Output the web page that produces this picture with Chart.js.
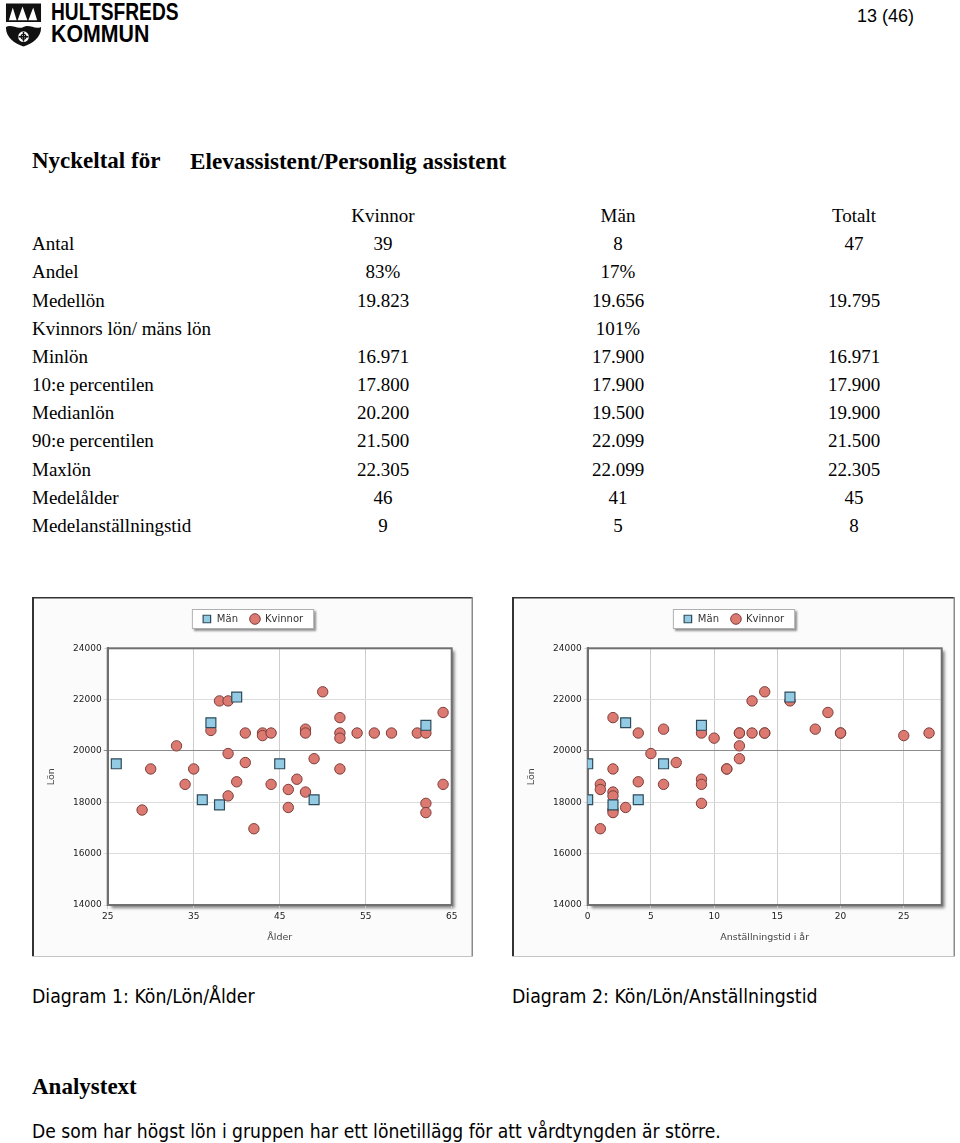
<!DOCTYPE html>
<html lang="sv">
<head>
<meta charset="utf-8">
<title>Nyckeltal Elevassistent/Personlig assistent</title>
<script src="https://cdn.jsdelivr.net/npm/chart.js@4.4.1/dist/chart.umd.min.js"></script>
<style>
  body { margin: 0; width: 960px; height: 1143px; position: relative; background: #fff; overflow: hidden; color: #000; }
  .abs { position: absolute; white-space: nowrap; }
  .serif { font-family: 'Liberation Serif', 'Times New Roman', serif; }
  .sans { font-family: 'Liberation Sans', Arial, sans-serif; }
  .tahoma { font-family: 'DejaVu Sans Condensed', 'DejaVu Sans', sans-serif; }
  .cell { position: absolute; width: 140px; text-align: center; line-height: 28px; font-size: 19px; }
  canvas { position: absolute; }
</style>
</head>
<body>

<!-- sidhuvud -->
<svg class="abs" style="left:5px;top:2px" width="37" height="46" viewBox="0 0 38 46">
  <path d="M1,1 H37 V26 C37,36 28,42 19,45 C10,42 1,36 1,26 Z" fill="#111"/>
  <path d="M4,18 L8,5 L12,18 Z M13,18 L18,4 L23,18 Z M24,18 L29,5 L33,18 Z" fill="#fff"/>
  <path d="M1,20 H37 V25 C31,28 25,22 19,25 C13,28 7,22 1,25 Z" fill="#fff"/>
  <circle cx="19" cy="35" r="5.5" fill="#fff"/>
  <path d="M19,30 V40 M14,35 H24" stroke="#111" stroke-width="1.5"/>
  <circle cx="19" cy="35" r="2.5" fill="none" stroke="#111" stroke-width="1.2"/>
</svg>
<div class="abs sans" style="left:51px;top:-1px;font-size:23.7px;font-weight:bold;line-height:26px;transform:scaleX(0.81);transform-origin:left">HULTSFREDS</div>
<div class="abs sans" style="left:51px;top:21px;font-size:23.7px;font-weight:bold;line-height:26px;transform:scaleX(0.9);transform-origin:left">KOMMUN</div>
<div class="abs sans" style="right:46px;top:5px;font-size:18px;line-height:22px">13 (46)</div>

<div class="abs serif" style="left:32px;top:147px;font-size:23px;font-weight:bold;line-height:28px">Nyckeltal för</div>
<div class="abs serif" style="left:190px;top:147px;font-size:23.2px;font-weight:bold;line-height:28px">Elevassistent/Personlig assistent</div>

<div id="tabell"></div>

<canvas id="diagram1" width="441" height="360" style="left:32px;top:597px"></canvas>
<canvas id="diagram2" width="443" height="360" style="left:512px;top:597px"></canvas>

<div class="abs tahoma" style="left:32px;top:985px;font-size:19.3px;line-height:24px">Diagram 1: Kön/Lön/Ålder</div>
<div class="abs tahoma" style="left:512px;top:985px;font-size:19.3px;line-height:24px">Diagram 2: Kön/Lön/Anställningstid</div>

<div class="abs serif" style="left:32px;top:1073px;font-size:23px;font-weight:bold;line-height:28px">Analystext</div>
<div class="abs tahoma" style="left:32px;top:1120px;font-size:19.1px;line-height:24px">De som har högst lön i gruppen har ett lönetillägg för att vårdtyngden är större.</div>

<script>
// Nyckeltal
var rubriker = ['Kvinnor', 'Män', 'Totalt'];
var radNamn = ['Antal', 'Andel', 'Medellön', 'Kvinnors lön/ mäns lön', 'Minlön', '10:e percentilen',
  'Medianlön', '90:e percentilen', 'Maxlön', 'Medelålder', 'Medelanställningstid'];
var kvinnorVarden = ['39', '83%', '19.823', '', '16.971', '17.800', '20.200', '21.500', '22.305', '46', '9'];
var manVarden = ['8', '17%', '19.656', '101%', '17.900', '17.900', '19.500', '22.099', '22.099', '41', '5'];
var totaltVarden = ['47', '', '19.795', '', '16.971', '17.900', '19.900', '21.500', '22.305', '45', '8'];

// Diagram 1: Kön/Lön/Ålder
var manAlder = [26, 36, 38, 40, 37, 45, 49, 62];
var manLon1 = [19500, 18100, 17900, 22100, 21100, 19500, 18100, 21000];
var kvinnorAlder = [29, 30, 33, 34, 35, 37, 38, 39, 39, 39, 40, 41, 41, 42, 43, 43, 44, 44, 46, 46,
  47, 48, 48, 48, 49, 50, 52, 52, 52, 52, 54, 56, 58, 61, 62, 62, 62, 64, 64];
var kvinnorLon1 = [17700, 19300, 20200, 18700, 19300, 20800, 21950, 21950, 19900, 18250, 18800, 20700, 19550, 16971, 20700, 20600, 20700, 18700, 18500, 17800,
  18900, 20850, 20700, 18400, 19700, 22305, 21300, 20700, 20500, 19300, 20700, 20700, 20700, 20700, 20700, 17960, 17600, 21500, 18700];

// Diagram 2: Kön/Lön/Anställningstid
var manTid = [0, 0, 2, 3, 4, 6, 9, 16];
var manLon2 = [19500, 18100, 17900, 21100, 18100, 19500, 21000, 22100];
var kvinnorTid = [1, 1, 1, 2, 2, 2, 2, 2, 2, 3, 4, 4, 5, 6, 6, 7, 9, 9, 9, 9,
  10, 11, 11, 12, 12, 12, 12, 13, 13, 14, 14, 14, 16, 18, 19, 20, 20, 25, 27];
var kvinnorLon2 = [16971, 18700, 18500, 21300, 19300, 18400, 18250, 17700, 17600, 17800, 20700, 18800, 19900, 20850, 18700, 19550, 20700, 18900, 18700, 17960,
  20500, 19300, 19300, 20700, 20200, 19700, 20700, 21950, 20700, 22305, 20700, 20700, 21950, 20850, 21500, 20700, 20700, 20600, 20700];

// Skalor
var lonTicks = [14000, 16000, 18000, 20000, 22000, 24000];
var alderTicks = [25, 35, 45, 55, 65];
var tidTicks = [0, 5, 10, 15, 20, 25];

// Bygg tabellen
var tabell = document.getElementById('tabell');
var kolumnMitt = [383, 618, 854];
function cell(text, top, left, vanster) {
  var d = document.createElement('div');
  d.className = 'cell serif';
  d.style.top = top + 'px';
  d.style.left = left + 'px';
  if (vanster) { d.style.width = 'auto'; d.style.textAlign = 'left'; }
  d.textContent = text;
  tabell.appendChild(d);
}
rubriker.forEach(function (r, i) { cell(r, 202, kolumnMitt[i] - 70); });
radNamn.forEach(function (namn, i) {
  var top = 202 + (i + 1) * 28.17;
  cell(namn, top, 32, true);
  cell(kvinnorVarden[i], top, kolumnMitt[0] - 70);
  cell(manVarden[i], top, kolumnMitt[1] - 70);
  cell(totaltVarden[i], top, kolumnMitt[2] - 70);
});

function punkter(xs, ys) {
  return xs.map(function (x, i) { return { x: x, y: ys[i] }; });
}

// Ramar, skuggor och legendruta
var ramPlugin = {
  id: 'ramar',
  beforeInit: function (chart) {
    var fit = chart.legend.fit;
    chart.legend.fit = function () {
      fit.call(chart.legend);
      this.height = 51.3 - 5;
    };
  },
  afterLayout: function (chart) {
    // centrera legenden över hela bilden
    chart.legend.right = chart.width;
    chart.legend.width = chart.width - chart.legend.left;
  },
  beforeDraw: function (chart) {
    var ctx = chart.ctx, a = chart.chartArea, w = chart.width, h = chart.height;
    ctx.save();
    ctx.fillStyle = '#fbfbfb';
    ctx.fillRect(0, 0, w, h);
    // bildram
    ctx.fillStyle = '#333';
    ctx.fillRect(0, 0, 2, h);
    ctx.fillRect(0, 0, w, 1.5);
    ctx.fillStyle = '#8a8a8a';
    ctx.fillRect(w - 1.5, 0, 1.5, h);
    ctx.fillStyle = '#c4c4c4';
    ctx.fillRect(0, h - 1, w, 1);
    // skugga bakom diagramytan
    ctx.shadowColor = 'rgba(0,0,0,0.5)';
    ctx.shadowBlur = 3;
    ctx.shadowOffsetX = 3;
    ctx.shadowOffsetY = 3;
    ctx.fillStyle = '#ffffff';
    ctx.fillRect(a.left, a.top, a.right - a.left, a.bottom - a.top);
    // legendruta
    var boxar = chart.legend.legendHitBoxes;
    if (boxar && boxar.length) {
      var l = Math.min.apply(null, boxar.map(function (b) { return b.left; })) - 10;
      var r = Math.max.apply(null, boxar.map(function (b) { return b.left + b.width; })) + 11;
      var t = boxar[0].top - 5;
      var bt = boxar[0].top + boxar[0].height + 5;
      ctx.shadowColor = 'rgba(0,0,0,0.45)';
      ctx.shadowOffsetX = 2;
      ctx.shadowOffsetY = 2;
      ctx.shadowBlur = 2;
      ctx.fillRect(l, t, r - l, bt - t);
      ctx.shadowColor = 'transparent';
      ctx.strokeStyle = '#b0b0b0';
      ctx.lineWidth = 1;
      ctx.strokeRect(l + 0.5, t + 0.5, r - l - 1, bt - t - 1);
    }
    ctx.restore();
  },
  beforeDatasetsDraw: function (chart) {
    var ctx = chart.ctx, a = chart.chartArea;
    ctx.save();
    ctx.strokeStyle = '#707070';
    ctx.lineWidth = 2;
    ctx.strokeRect(a.left, a.top, a.right - a.left, a.bottom - a.top);
    ctx.restore();
  }
};

var tickFont = { family: 'DejaVu Sans', size: 9 };
var titelFont = { family: 'DejaVu Sans', size: 9.5 };

function skapaDiagram(id, xTitel, xMin, xMax, xTicks, hogerPadding, manX, manY, kvX, kvY) {
  return new Chart(document.getElementById(id), {
    type: 'scatter',
    data: {
      datasets: [{
        label: 'Män',
        data: punkter(manX, manY),
        pointStyle: 'rect',
        pointRadius: 7,
        backgroundColor: '#93cbe4',
        borderColor: '#2f4b5a',
        borderWidth: 1.2
      }, {
        label: 'Kvinnor',
        data: punkter(kvX, kvY),
        pointStyle: 'circle',
        pointRadius: 5.2,
        backgroundColor: '#dc7a72',
        borderColor: '#7d3f3b',
        borderWidth: 1
      }]
    },
    options: {
      responsive: false,
      animation: false,
      devicePixelRatio: 1,
      layout: { padding: { top: 5, right: hogerPadding, bottom: 0, left: 0 } },
      plugins: {
        legend: {
          position: 'top',
          labels: {
            usePointStyle: true,
            boxHeight: 7.5,
            padding: 12,
            color: '#333',
            font: { family: 'DejaVu Sans', size: 10 }
          }
        },
        tooltip: { enabled: false }
      },
      scales: {
        x: {
          type: 'linear',
          min: xMin,
          max: xMax,
          afterBuildTicks: function (s) { s.ticks = xTicks.map(function (v) { return { value: v }; }); },
          afterFit: function (s) { s.height = 52; },
          ticks: { color: '#222', font: tickFont, padding: 2 },
          grid: { color: '#cdcdcd', tickLength: 4 },
          border: { color: '#707070', width: 2 },
          title: { display: true, text: xTitel, color: '#444', font: titelFont, padding: { top: 0, bottom: 13.6 } }
        },
        y: {
          type: 'linear',
          min: 14000,
          max: 24000,
          afterBuildTicks: function (s) { s.ticks = lonTicks.map(function (v) { return { value: v }; }); },
          afterFit: function (s) { s.width = 75.7; },
          ticks: { color: '#222', font: tickFont, padding: 2, callback: function (v) { return String(v); } },
          grid: {
            color: function (c) { return c.tick && c.tick.value === 20000 ? '#8c8c8c' : '#dcdcdc'; },
            tickLength: 4
          },
          border: { color: '#707070', width: 2 },
          title: { display: true, text: 'Lön', color: '#444', font: titelFont, padding: { top: 14.3, bottom: 0 } }
        }
      }
    },
    plugins: [ramPlugin]
  });
}

skapaDiagram('diagram1', 'Ålder', 25, 65, alderTicks, 21.3, manAlder, manLon1, kvinnorAlder, kvinnorLon1);
skapaDiagram('diagram2', 'Anställningstid i år', 0, 28, tidTicks, 13.3, manTid, manLon2, kvinnorTid, kvinnorLon2);
</script>
</body>
</html>
